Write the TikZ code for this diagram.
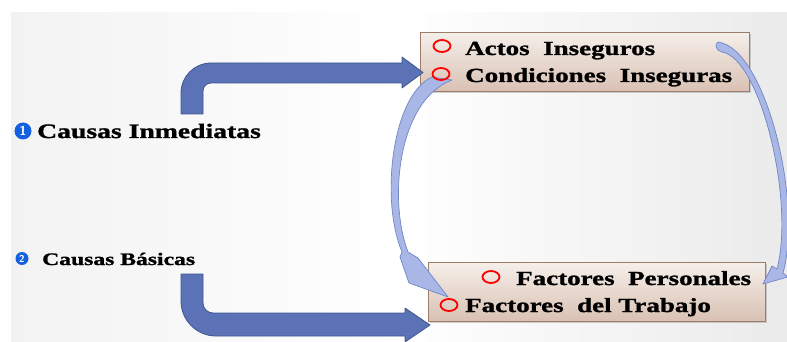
\documentclass[tikz,border=0pt]{standalone}
\usepackage{fontspec}
\setmainfont{Liberation Serif}[FakeStretch=1.35, BoldFeatures={FakeBold=1.3}]
\usetikzlibrary{shapes.geometric,shadows}
\definecolor{arrowblue}{HTML}{5B73B6}
\definecolor{arrowedge}{HTML}{41568F}
\definecolor{curvefill}{HTML}{A9B7E7}
\definecolor{curveedge}{HTML}{7286C4}
\definecolor{boxtop}{HTML}{F5EFEA}
\definecolor{boxbot}{HTML}{D9C1B3}
\definecolor{boxedge}{HTML}{9C7D6C}
\definecolor{dotblue}{HTML}{1560E0}
\begin{document}
\begin{tikzpicture}[x=1pt,y=-1pt,
  boxtext/.style={font=\bfseries\fontsize{20}{24}\selectfont, anchor=base west, inner sep=0pt},
  sidetext/.style={font=\bfseries\fontsize{20.5}{24}\selectfont, anchor=base west, inner sep=0pt},
  infobox/.style={draw=boxedge, line width=0.8pt, top color=boxtop, bottom color=boxbot,
    anchor=north west, inner sep=0pt,
    drop shadow={shadow xshift=2pt, shadow yshift=-2pt, opacity=0.35}},
  ring/.style={ellipse, draw=red, line width=1.8pt, minimum width=17pt, minimum height=12pt, inner sep=0pt},
  numdot/.style={circle, fill=dotblue, text=white, inner sep=0pt,
    font=\sffamily\bfseries\fontsize{13}{13}\selectfont},
  bentarrow/.style={fill=arrowblue, draw=arrowedge, line width=0.8pt, line join=round},
  curvearrow/.style={fill=curvefill, draw=curveedge, line width=0.7pt, line join=round}]

\useasboundingbox (0,0) rectangle (787,342);

% slide background
\fill[white] (0,0) rectangle (787,342);
\shade[left color=black!5, right color=black!8, middle color=white] (11,13) rectangle (787,342);

% boxes
\node[infobox, minimum width=329pt, minimum height=59pt] (top) at (420,32) {};
\node[infobox, minimum width=337pt, minimum height=59pt] (bottom) at (428,262) {};

% bent arrows from the side labels to the boxes
\path[bentarrow] (181,114) -- (181,93) .. controls (181,76.4) and (194.4,63) .. (211,63)
  -- (402,63) -- (402,57) -- (423,72.5) -- (402,88) -- (402,83) -- (211,83)
  .. controls (206.6,83) and (203,86.6) .. (203,91) -- (203,114) -- cycle;
\path[bentarrow] (181,274) -- (181,301) .. controls (181,320.3) and (196.7,336) .. (216,336)
  -- (405,336) -- (405,342) -- (430,325) -- (405,308) -- (405,313) -- (213,313)
  .. controls (207.5,313) and (203,308.5) .. (203,303) -- (203,274) -- cycle;

% curved arrows between the boxes
\path[curvearrow] (432,77) .. controls (392,95) and (380,200) .. (402,252)
  -- (400,257) -- (409,283) -- (448,297) -- (418,258) -- (408,252)
  .. controls (388,200) and (398,100) .. (452,80) -- cycle;
\path[curvearrow] (718,42) .. controls (765,48) and (803,200) .. (783,273)
  -- (788,277) -- (763,284) -- (772,266) -- (777,269)
  .. controls (795,200) and (760,58) .. (722,52)
  .. controls (716,51) and (714,44) .. (718,42) -- cycle;

% box texts
\node[ring] (r1) at (442,46) {};
\node[boxtext] (t1) at (465,55) {Actos~~Inseguros};
\node[ring] (r2) at (441,74) {};
\node[boxtext] (t2) at (465,82) {Condiciones~~Inseguras};
\node[ring] (r3) at (491,277) {};
\node[boxtext] (t3) at (516,285) {Factores~~Personales};
\node[ring] (r4) at (449,305) {};
\node[boxtext] (t4) at (465,312) {Factores~~del~Trabajo};

% side labels
\node[numdot, minimum size=17pt] (n1) at (23,131) {1};
\node[sidetext] (s1) at (37,138) {Causas Inmediatas};
\node[numdot, minimum size=13pt, font=\sffamily\bfseries\fontsize{10}{10}\selectfont] (n2) at (22,258.5) {2};
\node[sidetext, font=\bfseries\fontsize{17.5}{20}\selectfont] (s2) at (42,265) {Causas~Básicas};
\end{tikzpicture}
\end{document}
